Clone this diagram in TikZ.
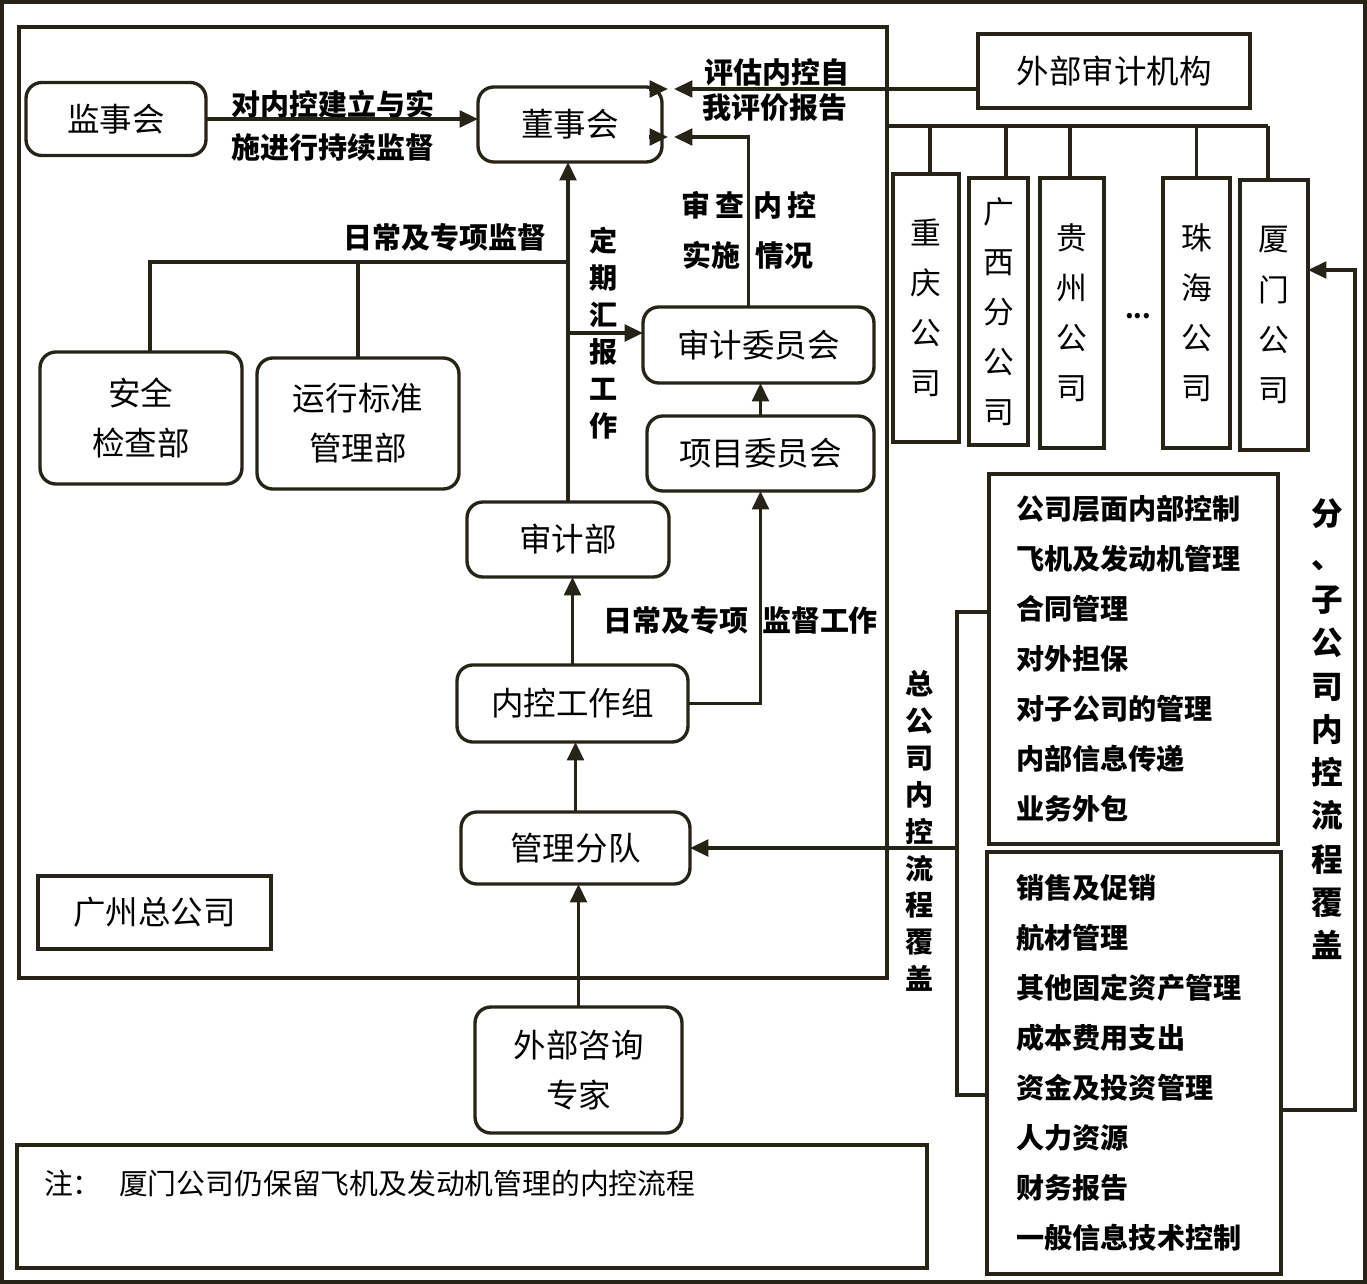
\documentclass[tikz,border=0pt]{standalone}
\usepackage{fontspec}
\setmainfont{Noto Sans CJK SC}
\usetikzlibrary{arrows.meta}
\definecolor{ln}{RGB}{38,36,22}
\begin{document}
\begin{tikzpicture}[x=0.02cm,y=-0.02cm,
  every node/.style={inner sep=0pt, outer sep=0pt},
  box/.style={draw=ln, line width=1.9pt, rounded corners=9pt, align=center, font=\fontsize{18.5}{28.5}\selectfont},
  sqbox/.style={draw=ln, line width=1.9pt, align=center, font=\fontsize{18.5}{28.5}\selectfont},
  frame/.style={draw=ln, line width=1.9pt},
  comp/.style={draw=ln, line width=1.9pt, align=center, font=\fontsize{17.5}{28.5}\selectfont},
  listbox/.style={draw=ln, line width=1.9pt, align=left, text width=4.7cm, font=\bfseries\fontsize{16}{28.45}\selectfont},
  lab/.style={font=\bfseries\fontsize{16.5}{20}\selectfont, align=center},
  vlab/.style={font=\bfseries\fontsize{16}{21}\selectfont, align=center},
  con/.style={draw=ln, line width=1.9pt},
  arr/.style={con, -{Triangle[length=10.5pt,width=9.5pt]}},
]
\useasboundingbox (0,0) rectangle (1367,1284);
% frames
\node[frame, minimum width=27.26cm, minimum height=25.6cm] (outer) at (683.5,642) {};
\node[frame, minimum width=17.36cm, minimum height=19.02cm] (gz) at (453,502.5) {};
% main nodes
\node[box, minimum width=3.6cm, minimum height=1.46cm] (jsh) at (116,119) {监事会};
\node[box, minimum width=3.68cm, minimum height=1.5cm] (dsh) at (570,124.5) {董事会};
\node[sqbox, minimum width=5.44cm, minimum height=1.48cm] (wbsj) at (1114,71) {外部审计机构};
\node[box, minimum width=4.62cm, minimum height=1.52cm] (sjwyh) at (758.5,345) {审计委员会};
\node[box, minimum width=4.54cm, minimum height=1.5cm] (xmwyh) at (760.5,453.5) {项目委员会};
\node[box, minimum width=4.04cm, minimum height=2.64cm] (aqjc) at (141,418) {安全\\检查部};
\node[box, minimum width=4.04cm, minimum height=2.62cm] (yxbz) at (358,423.5) {运行标准\\管理部};
\node[box, minimum width=4.04cm, minimum height=1.5cm] (sjb) at (568,539.5) {审计部};
\node[box, minimum width=4.62cm, minimum height=1.54cm] (nkgzz) at (572.5,703.5) {内控工作组};
\node[box, minimum width=4.58cm, minimum height=1.44cm] (glfd) at (575.5,848) {管理分队};
\node[sqbox, minimum width=4.66cm, minimum height=1.46cm] (gzzgs) at (154.5,912.5) {广州总公司};
\node[box, minimum width=4.14cm, minimum height=2.52cm] (wbzx) at (578.5,1070) {外部咨询\\专家};
\node[frame, minimum width=18.2cm, minimum height=2.46cm] (note) at (472,1206.5) {};
\node[anchor=west, font=\fontsize{16.4}{20}\selectfont] (notetext) at (44,1184) {注：\hspace{0.35cm}厦门公司仍保留飞机及发动机管理的内控流程};
% companies
\node[comp, minimum width=1.32cm, minimum height=5.36cm] (cq) at (926,308) {重\\庆\\公\\司};
\node[comp, minimum width=1.18cm, minimum height=5.34cm] (gx) at (998.5,311.5) {广\\西\\分\\公\\司};
\node[comp, minimum width=1.28cm, minimum height=5.4cm] (gzh) at (1072,313) {贵\\州\\公\\司};
\node[font=\bfseries\fontsize{14}{16}\selectfont] (dots) at (1138,316) {...};
\node[comp, minimum width=1.34cm, minimum height=5.4cm] (zh) at (1196.5,313) {珠\\海\\公\\司};
\node[comp, minimum width=1.36cm, minimum height=5.4cm] (xm) at (1274,315) {厦\\门\\公\\司};
% list boxes
\node[listbox, minimum width=5.78cm, minimum height=7.4cm] (box1) at (1133.5,659) {公司层面内部控制\\飞机及发动机管理\\合同管理\\对外担保\\对子公司的管理\\内部信息传递\\业务外包};
\node[listbox, minimum width=5.88cm, minimum height=8.44cm] (box2) at (1134,1063) {销售及促销\\航材管理\\其他固定资产管理\\成本费用支出\\资金及投资管理\\人力资源\\财务报告\\一般信息技术控制};
% labels
\node[lab] (l1) at (333,104) {对内控建立与实};
\node[lab] (l2) at (333,147) {施进行持续监督};
\node[lab] (l3) at (777,72) {评估内控自};
\node[lab] (l4) at (775,108) {我评价报告};
\node[lab] (l5) at (749,205) {审\,查\,\,内\,控};
\node[lab] (l6) at (748,255) {实施\,\,\,情况};
\node[lab] (l7) at (445,237) {日常及专项监督};
\node[vlab] (l8) at (604,333) {定\\期\\汇\\报\\工\\作};
\node[lab] (l9) at (676,620) {日常及专项};
\node[lab] (l10) at (820,620) {监督工作};
\node[vlab] (l11) at (920,831) {总\\公\\司\\内\\控\\流\\程\\覆\\盖};
\node[font=\bfseries\fontsize{18}{24.6}\selectfont, align=center] (l12) at (1327,729) {分\\、\\子\\公\\司\\内\\控\\流\\程\\覆\\盖};
% connectors
\draw[arr] (jsh.east) -- (jsh.east -| dsh.west);
\coordinate (a1) at (674,89);
\draw[arr] (wbsj.west |- a1) -- (a1);
\draw[arr] ([xshift=-0.5cm]a1) -- ([xshift=-0.12cm]a1);
\coordinate (a2) at (674,137);
\draw[arr] ([xshift=-0.2cm]sjwyh.north) |- (a2);
\draw[arr] ([xshift=-0.5cm]a2) -- ([xshift=-0.12cm]a2);
\draw[arr] (sjb.north) -- (sjb.north |- dsh.south);
\coordinate (j1) at (568,262);
\draw[con] ([xshift=0.18cm]aqjc.north) |- (j1);
\draw[con] (yxbz.north) -- (yxbz.north |- j1);
\coordinate (j2) at (568,333);
\draw[arr] (j2) -- (j2 -| sjwyh.west);
\draw[arr] (xmwyh.north) -- (xmwyh.north |- sjwyh.south);
\draw[arr] (nkgzz.north) -- (nkgzz.north |- sjb.south);
\draw[arr] (nkgzz.east) -| (xmwyh.south);
\draw[arr] (glfd.north) -- (glfd.north |- nkgzz.south);
\draw[arr] (wbzx.north) -- (wbzx.north |- glfd.south);
\coordinate (b0) at (957,848);
\coordinate (b1) at (957,612);
\coordinate (b2) at (957,1095);
\draw[con] (box1.west |- b1) -- (b1) -- (b2) -- (box2.west |- b2);
\draw[arr] (b0) -- (glfd.east);
\coordinate (r1) at (1355,1110);
\coordinate (r2) at (1355,270);
\draw[arr] (box2.east |- r1) -- (r1) -- (r2) -- (xm.east |- r2);
\coordinate (bus) at (1268,126);
\draw[con] (gz.east |- bus) -- (bus);
\foreach \n/\s in {cq/0.08,gx/0.15,gzh/-0.04,zh/0,xm/-0.12}
  \draw[con] ([xshift=\s cm]\n.north) -- ([xshift=\s cm]\n.north |- bus);
\end{tikzpicture}
\end{document}
